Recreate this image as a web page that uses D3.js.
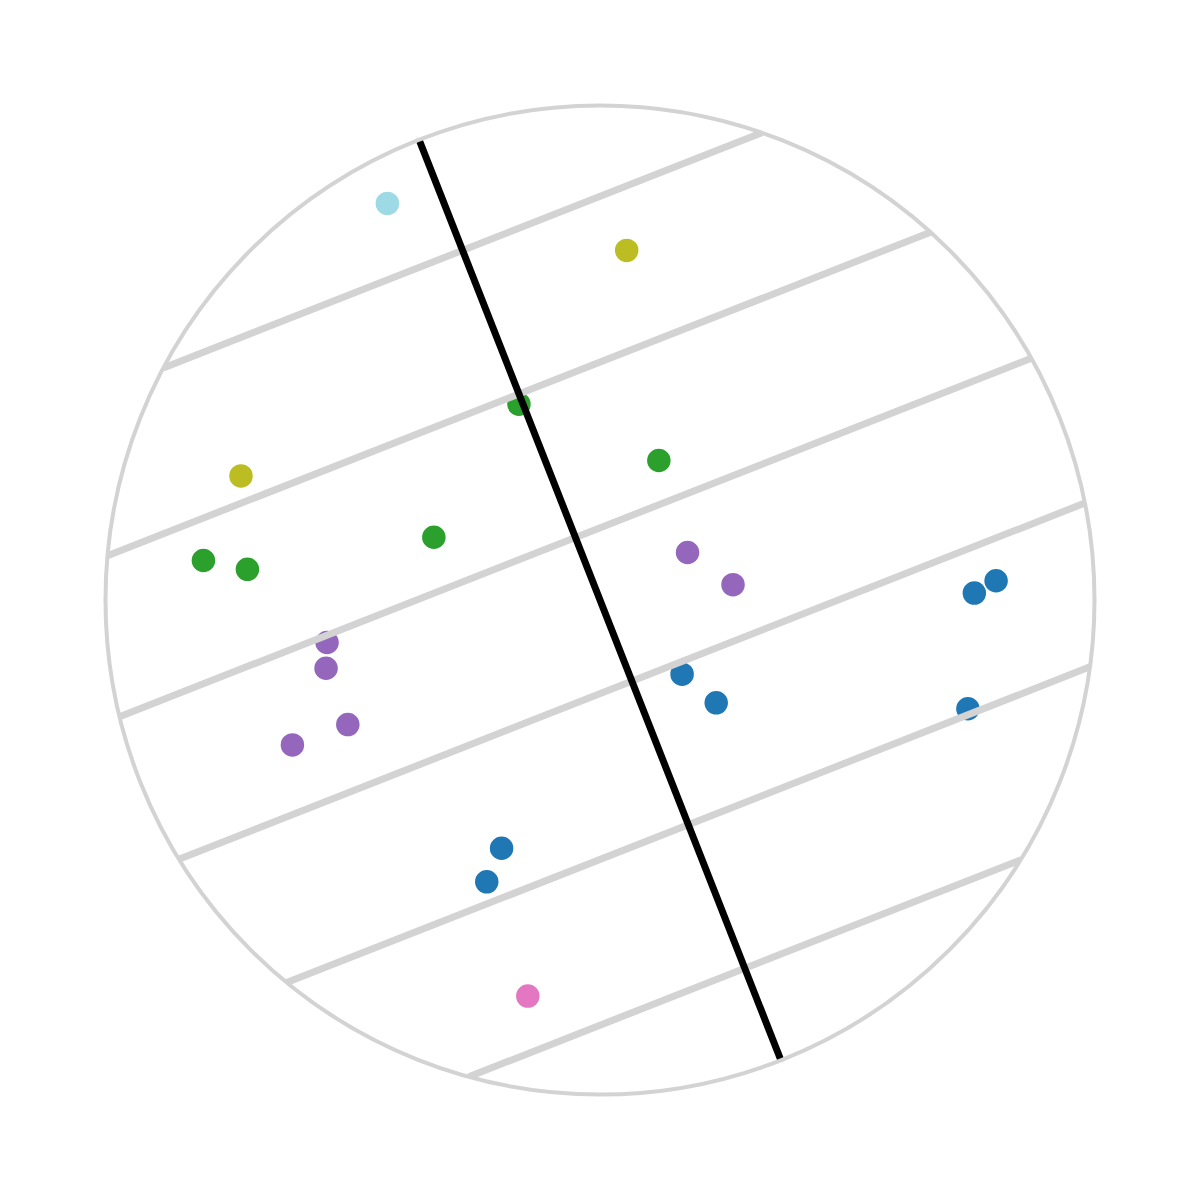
<!DOCTYPE html>
<html>
<head>
<meta charset="utf-8">
<script src="https://cdn.jsdelivr.net/npm/d3@7"></script>
<style>
  html, body { margin: 0; padding: 0; background: #fff; }
</style>
</head>
<body>
<div id="chart"></div>
<script>
// point data (unit disc, y up)
var categories = ["c1", "c2", "c3", "c4", "c5", "c6"];
var categoryColors = ["#1f77b4", "#2ca02c", "#9467bd", "#e377c2", "#bcbd22", "#9edae5"];

var pointCategory = ["c6", "c5", "c5", "c2", "c2", "c2", "c2", "c2",
                     "c3", "c3", "c3", "c3", "c3", "c3",
                     "c1", "c1", "c1", "c1", "c1", "c1", "c1", "c4"];
var pointX = [-0.430, 0.054, -0.726, -0.164, 0.119, -0.336, -0.802, -0.713,
              0.177, 0.269, -0.552, -0.554, -0.510, -0.622,
              0.757, 0.801, 0.166, 0.235, 0.744, -0.199, -0.229, -0.146];
var pointY = [0.802, 0.707, 0.251, 0.396, 0.282, 0.127, 0.080, 0.062,
              0.096, 0.031, -0.086, -0.138, -0.252, -0.293,
              0.014, 0.039, -0.150, -0.208, -0.220, -0.502, -0.570, -0.801];

// projection axis
var axisAngle = -68.54;          // degrees, data frame
var axisDomain = [-0.77, 5.64];
var axisTicks = [0, 1, 2, 3, 4, 5];

var width = 1200, height = 1200;
var cx = 600, cy = 600, radius = 494.5;

var x = d3.scaleLinear().domain([-1, 1]).range([cx - radius, cx + radius]);
var y = d3.scaleLinear().domain([-1, 1]).range([cy + radius, cy - radius]);
var proj = d3.scaleLinear().domain(axisDomain).range([-1, 1]);
var color = d3.scaleOrdinal().domain(categories).range(categoryColors);

var rad = axisAngle * Math.PI / 180;
var dir = [Math.cos(rad), Math.sin(rad)];
var nrm = [-dir[1], dir[0]];

var points = pointX.map(function(d, i) {
  return {x: d, y: pointY[i], cat: pointCategory[i]};
});

var svg = d3.select("#chart")
  .append("svg")
  .attr("width", width)
  .attr("height", height);

svg.append("defs").append("clipPath")
  .attr("id", "disc")
  .append("circle")
  .attr("cx", cx).attr("cy", cy).attr("r", radius);

var body = svg.append("g").attr("clip-path", "url(#disc)");

body.append("g")
  .attr("class", "points")
  .selectAll("circle")
  .data(points)
  .enter()
  .append("circle")
  .attr("cx", function(d) { return x(d.x); })
  .attr("cy", function(d) { return y(d.y); })
  .attr("r", 12.5)
  .attr("fill", function(d) { return color(d.cat); })
  .attr("stroke", "#fff")
  .attr("stroke-width", 1.5);

// level lines of the projection, one chord per tick
function chord(t) {
  var p = proj(t);
  var h = Math.sqrt(Math.max(0, 1 - p * p));
  return [
    [p * dir[0] - h * nrm[0], p * dir[1] - h * nrm[1]],
    [p * dir[0] + h * nrm[0], p * dir[1] + h * nrm[1]]
  ];
}

body.append("g")
  .attr("class", "levels")
  .selectAll("line")
  .data(axisTicks)
  .enter()
  .append("line")
  .attr("x1", function(t) { return x(chord(t)[0][0]); })
  .attr("y1", function(t) { return y(chord(t)[0][1]); })
  .attr("x2", function(t) { return x(chord(t)[1][0]); })
  .attr("y2", function(t) { return y(chord(t)[1][1]); })
  .attr("stroke", "#d3d3d3")
  .attr("stroke-width", 7);

body.append("line")
  .attr("class", "axis")
  .attr("x1", x(proj(axisDomain[0]) * dir[0]))
  .attr("y1", y(proj(axisDomain[0]) * dir[1]))
  .attr("x2", x(proj(axisDomain[1]) * dir[0]))
  .attr("y2", y(proj(axisDomain[1]) * dir[1]))
  .attr("stroke", "#000")
  .attr("stroke-width", 7);

svg.append("circle")
  .attr("class", "outline")
  .attr("cx", cx).attr("cy", cy).attr("r", radius)
  .attr("fill", "none")
  .attr("stroke", "#d3d3d3")
  .attr("stroke-width", 4);
</script>
</body>
</html>
